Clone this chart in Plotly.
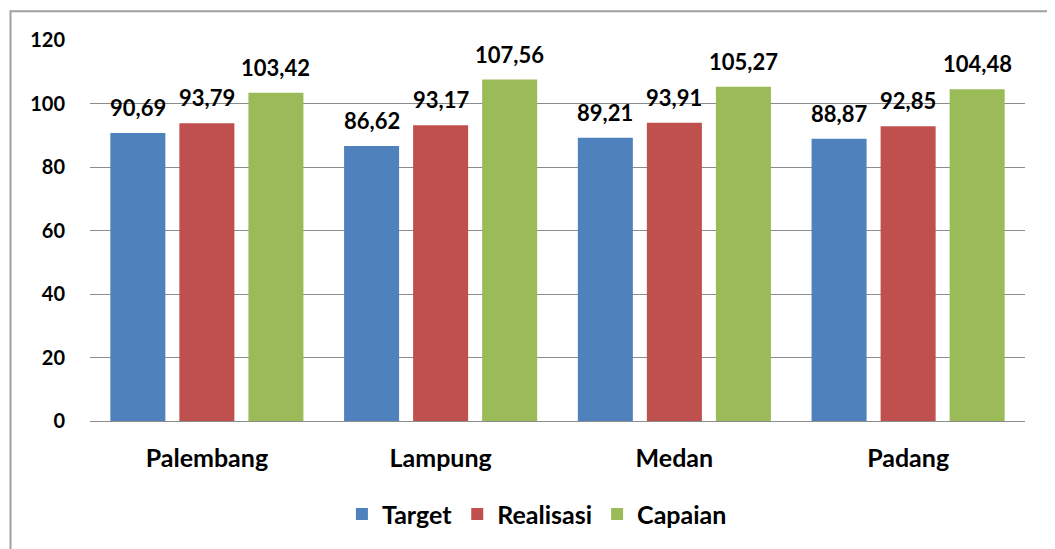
import plotly.graph_objects as go

# Data
kota = ['Palembang', 'Lampung', 'Medan', 'Padang']
target = [90.69, 86.62, 89.21, 88.87]
realisasi = [93.79, 93.17, 93.91, 92.85]
capaian = [103.42, 107.56, 105.27, 104.48]

FONT = 'Lato'
BARGAP = 0.114
BARGROUPGAP = 0.203

fig = go.Figure()

series = [
    ('Target', target, '#4F81BD'),
    ('Realisasi', realisasi, '#C0504D'),
    ('Capaian', capaian, '#9BBB59'),
]
slot = (1 - BARGAP) / len(series)
annotations = []
for k, (name, vals, color) in enumerate(series):
    fig.add_trace(go.Bar(
        x=kota, y=vals, name=name,
        marker=dict(color=color, line=dict(width=0)),
    ))
    # label nilai di atas batang (annotation supaya ada jarak dari batang)
    for i, v in enumerate(vals):
        annotations.append(dict(
            x=i + (k - 1) * slot, y=v, xref='x', yref='y',
            text=f'{v:.2f}'.replace('.', ','),
            showarrow=False, yanchor='bottom', yshift=10,
            font=dict(family=FONT, size=22, color='black', weight='bold'),
        ))

# page body has an 8px margin, so the figure is a bit smaller than the window
fig.update_layout(
    width=1047, height=541,
    margin=dict(l=82, r=30, t=32, b=125),
    paper_bgcolor='white', plot_bgcolor='white',
    barmode='group',
    bargap=BARGAP,
    bargroupgap=BARGROUPGAP,
    font=dict(family=FONT, color='black'),
    showlegend=True,
    legend=dict(
        orientation='h', x=0.478, xanchor='center', y=-0.245, yanchor='middle',
        font=dict(family=FONT, size=25, weight='bold'),
        itemwidth=30,
    ),
    yaxis=dict(
        range=[0, 120], dtick=20,
        showgrid=True, gridcolor='#8c8c8c', gridwidth=1,
        zeroline=False, showline=False,
        tickfont=dict(family=FONT, size=20, weight='bold'),
        ticklabelstandoff=24,
    ),
    xaxis=dict(
        showline=True, linecolor='#8c8c8c', linewidth=1,
        tickfont=dict(family=FONT, size=25, weight='bold'),
        ticklabelstandoff=15,
    ),
    annotations=annotations,
    shapes=[dict(
        type='rect', xref='paper', yref='paper',
        x0=(10.5 - 90) / 935, x1=(1053 - 90) / 935,
        y0=-0.5, y1=(424 - 11) / 384,
        line=dict(color='#a0a0a0', width=2), layer='below',
    )],
)

fig.write_html('out.html')
